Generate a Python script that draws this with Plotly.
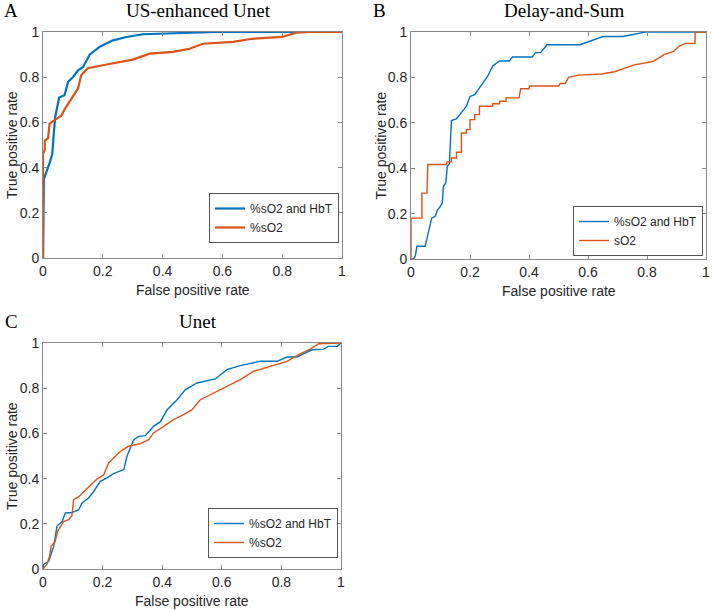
import plotly.graph_objects as go

# ROC curves (FPR, TPR)
a_both_fpr = [0, 0.003, 0.022, 0.031, 0.036, 0.041, 0.054, 0.072, 0.084, 0.10, 0.117, 0.134, 0.156, 0.19, 0.234, 0.279, 0.334, 0.41, 0.48, 0.58, 1.0]
a_both_tpr = [0, 0.35, 0.42, 0.46, 0.55, 0.625, 0.71, 0.72, 0.78, 0.80, 0.83, 0.845, 0.90, 0.935, 0.963, 0.978, 0.99, 0.993, 0.995, 1.0, 1.0]
a_so2_fpr = [0, 0, 0.006, 0.006, 0.017, 0.022, 0.039, 0.061, 0.078, 0.095, 0.117, 0.128, 0.15, 0.2, 0.256, 0.30, 0.357, 0.435, 0.49, 0.535, 0.635, 0.70, 0.80, 0.847, 0.89, 1.0]
a_so2_tpr = [0, 0.46, 0.48, 0.52, 0.53, 0.595, 0.61, 0.63, 0.67, 0.705, 0.75, 0.81, 0.84, 0.853, 0.868, 0.878, 0.904, 0.912, 0.926, 0.948, 0.956, 0.97, 0.978, 0.997, 1.0, 1.0]

b_both_fpr = [0, 0.009, 0.015, 0.02, 0.048, 0.059, 0.07, 0.082, 0.09, 0.098, 0.106, 0.11, 0.118, 0.123, 0.13, 0.134, 0.137, 0.154, 0.188, 0.2, 0.216, 0.244, 0.26, 0.277, 0.3, 0.333, 0.344, 0.411, 0.422, 0.44, 0.461, 0.573, 0.651, 0.718, 0.795, 1.0]
b_both_tpr = [0, 0, 0.015, 0.056, 0.056, 0.115, 0.18, 0.188, 0.217, 0.229, 0.247, 0.32, 0.335, 0.408, 0.42, 0.525, 0.61, 0.617, 0.673, 0.716, 0.724, 0.776, 0.805, 0.85, 0.872, 0.872, 0.89, 0.89, 0.908, 0.91, 0.944, 0.944, 0.98, 0.98, 1.0, 1.0]
b_so2_fpr = [0, 0, 0.037, 0.037, 0.054, 0.057, 0.12, 0.123, 0.137, 0.137, 0.154, 0.154, 0.171, 0.171, 0.188, 0.188, 0.2, 0.2, 0.216, 0.216, 0.232, 0.232, 0.277, 0.277, 0.3, 0.3, 0.322, 0.322, 0.366, 0.372, 0.40, 0.402, 0.5, 0.506, 0.523, 0.534, 0.568, 0.646, 0.69, 0.724, 0.757, 0.82, 0.858, 0.89, 0.908, 0.93, 0.963, 0.963, 1.0]
b_so2_tpr = [0, 0.18, 0.18, 0.29, 0.29, 0.416, 0.416, 0.428, 0.428, 0.445, 0.445, 0.47, 0.47, 0.555, 0.555, 0.57, 0.57, 0.614, 0.614, 0.636, 0.636, 0.673, 0.673, 0.684, 0.684, 0.695, 0.695, 0.71, 0.71, 0.75, 0.75, 0.762, 0.762, 0.773, 0.773, 0.80, 0.81, 0.815, 0.825, 0.84, 0.855, 0.87, 0.90, 0.915, 0.937, 0.95, 0.95, 1.0, 1.0]

c_both_fpr = [0, 0.002, 0.019, 0.025, 0.036, 0.047, 0.064, 0.075, 0.097, 0.12, 0.131, 0.153, 0.17, 0.192, 0.215, 0.237, 0.271, 0.282, 0.304, 0.321, 0.343, 0.371, 0.394, 0.416, 0.45, 0.478, 0.517, 0.578, 0.617, 0.662, 0.729, 0.785, 0.819, 0.852, 0.903, 0.942, 0.958, 0.987, 1.0]
c_both_tpr = [0, 0.02, 0.034, 0.056, 0.10, 0.19, 0.21, 0.248, 0.25, 0.262, 0.292, 0.314, 0.343, 0.388, 0.403, 0.422, 0.44, 0.50, 0.571, 0.587, 0.59, 0.631, 0.652, 0.704, 0.749, 0.794, 0.823, 0.841, 0.882, 0.90, 0.919, 0.919, 0.938, 0.938, 0.97, 0.973, 0.985, 0.985, 1.0]
c_so2_fpr = [0, 0.013, 0.022, 0.027, 0.041, 0.049, 0.069, 0.086, 0.097, 0.103, 0.12, 0.136, 0.159, 0.181, 0.204, 0.22, 0.243, 0.26, 0.287, 0.327, 0.355, 0.371, 0.405, 0.438, 0.472, 0.50, 0.528, 0.573, 0.617, 0.662, 0.707, 0.763, 0.819, 0.858, 0.897, 0.925, 1.0]
c_so2_tpr = [0, 0.02, 0.056, 0.10, 0.122, 0.167, 0.21, 0.218, 0.236, 0.307, 0.32, 0.34, 0.373, 0.398, 0.417, 0.469, 0.499, 0.521, 0.543, 0.555, 0.572, 0.602, 0.631, 0.661, 0.683, 0.705, 0.749, 0.779, 0.808, 0.838, 0.875, 0.897, 0.919, 0.949, 0.973, 0.997, 1.0]

tick_vals = [0, 0.2, 0.4, 0.6, 0.8, 1]
tick_text = ["0", "0.2", "0.4", "0.6", "0.8", "1"]

BLUE = "#0072BD"
ORANGE = "#D95319"
AXIS_COLOR = "#8a8a8a"
TEXT_COLOR = "#262626"
W, H = 712, 610


def px_x(p):
    return p / W


def px_y(p):
    return 1 - p / H


# panel boxes in window pixels: left, right, top, bottom
panels = {
    "A": (43, 342, 32, 258),
    "B": (411, 706, 32, 259),
    "C": (43, 341, 343, 569),
}

fig = go.Figure()

series = [
    ("x", "y", "legend", a_both_fpr, a_both_tpr, BLUE, "%sO2 and HbT", 2.2),
    ("x", "y", "legend", a_so2_fpr, a_so2_tpr, ORANGE, "%sO2", 2.2),
    ("x2", "y2", "legend2", b_both_fpr, b_both_tpr, BLUE, "%sO2 and HbT", 1.4),
    ("x2", "y2", "legend2", b_so2_fpr, b_so2_tpr, ORANGE, "sO2", 1.4),
    ("x3", "y3", "legend3", c_both_fpr, c_both_tpr, BLUE, "%sO2 and HbT", 1.4),
    ("x3", "y3", "legend3", c_so2_fpr, c_so2_tpr, ORANGE, "%sO2", 1.4),
]
for xa, ya, leg, xs, ys, col, name, lw in series:
    fig.add_trace(
        go.Scatter(
            x=xs, y=ys, mode="lines", name=name, xaxis=xa, yaxis=ya,
            legend=leg, line=dict(color=col, width=lw),
        )
    )

axis_style = dict(
    range=[0, 1],
    tickvals=tick_vals,
    ticktext=tick_text,
    ticks="inside",
    ticklen=4,
    tickcolor=AXIS_COLOR,
    showline=True,
    linecolor=AXIS_COLOR,
    linewidth=1,
    mirror="ticks",
    showgrid=False,
    zeroline=False,
    automargin=False,
    tickfont=dict(family="Liberation Sans, Arial", size=14, color=TEXT_COLOR),
    fixedrange=True,
)

layout = dict(
    template="none",
    width=W,
    height=H,
    margin=dict(l=0, r=0, t=0, b=0, pad=0),
    paper_bgcolor="white",
    plot_bgcolor="white",
    showlegend=True,
)

annotations = []
titles = {"A": "US-enhanced Unet", "B": "Delay-and-Sum", "C": "Unet"}
legend_names = {"A": "legend", "B": "legend2", "C": "legend3"}
legend_pos = {"A": (209, 193), "B": (573, 206), "C": (208, 508)}
suffix = {"A": "", "B": "2", "C": "3"}

for key, (l, r, t, b) in panels.items():
    s = suffix[key]
    layout["xaxis" + s] = dict(axis_style, domain=[px_x(l), px_x(r)], anchor="y" + s)
    layout["yaxis" + s] = dict(axis_style, domain=[px_y(b), px_y(t)], anchor="x" + s)
    cx = (l + r) / 2
    annotations.append(dict(
        x=px_x(cx + 6), y=px_y(t - 22), xref="paper", yref="paper",
        text=titles[key], showarrow=False, xanchor="center", yanchor="middle",
        font=dict(family="Liberation Serif, Times New Roman", size=19, color="black"),
    ))
    annotations.append(dict(
        x=px_x(l - 32), y=px_y(t - 22), xref="paper", yref="paper",
        text=key, showarrow=False, xanchor="center", yanchor="middle",
        font=dict(family="Liberation Serif, Times New Roman", size=19, color="black"),
    ))
    annotations.append(dict(
        x=px_x(cx), y=px_y(b + 32), xref="paper", yref="paper",
        text="False positive rate", showarrow=False, xanchor="center", yanchor="middle",
        font=dict(family="Liberation Sans, Arial", size=14, color=TEXT_COLOR),
    ))
    annotations.append(dict(
        x=px_x(l - 31), y=px_y((t + b) / 2), xref="paper", yref="paper",
        text="True positive rate", showarrow=False, textangle=-90,
        xanchor="center", yanchor="middle",
        font=dict(family="Liberation Sans, Arial", size=14, color=TEXT_COLOR),
    ))
    lx, ly = legend_pos[key]
    layout[legend_names[key]] = dict(
        x=px_x(lx), y=px_y(ly), xanchor="left", yanchor="top",
        bgcolor="white", bordercolor="#555555", borderwidth=1,
        font=dict(family="Liberation Sans, Arial", size=12, color=TEXT_COLOR),
        itemwidth=30, tracegroupgap=0,
    )

layout["annotations"] = annotations
fig.update_layout(**layout)

# drop the browser's default body margin so the figure starts at the window corner
fig.write_html(
    "out.html",
    config={"displayModeBar": False},
    post_script="document.body.style.margin = '0';",
)
